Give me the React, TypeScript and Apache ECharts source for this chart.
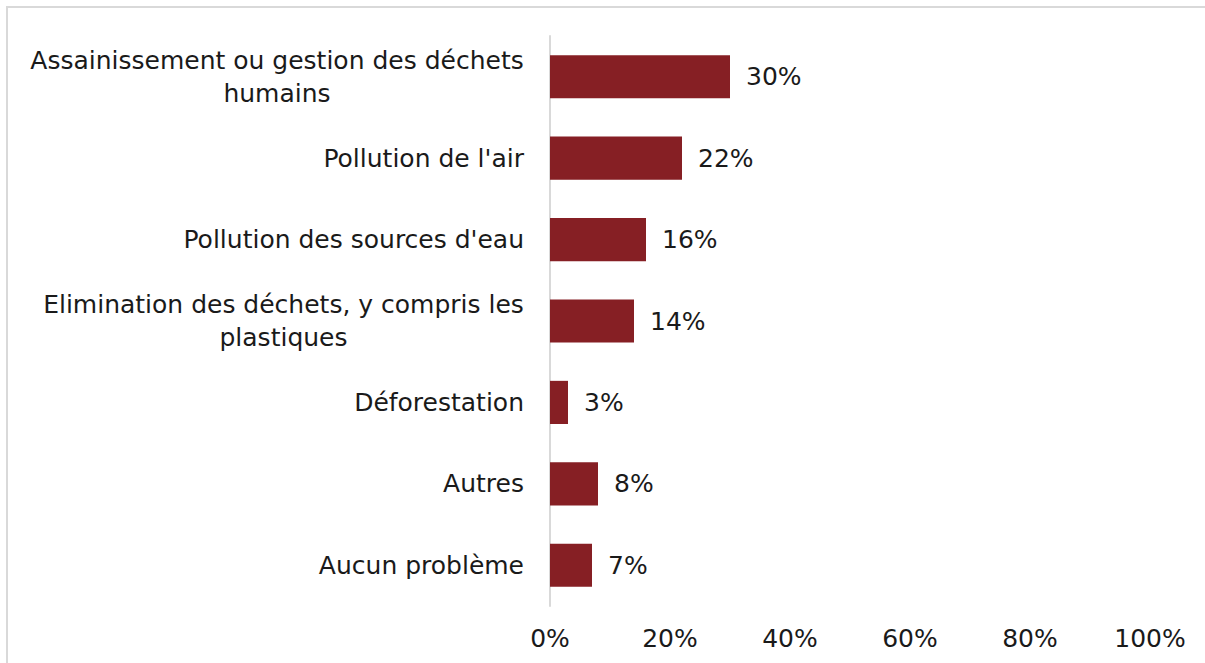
import React, { useEffect, useRef } from "react";
import * as echarts from "echarts";

const categories = [
  "Assainissement ou gestion des déchets\nhumains",
  "Pollution de l'air",
  "Pollution des sources d'eau",
  "Elimination des déchets, y compris les\nplastiques",
  "Déforestation",
  "Autres",
  "Aucun problème",
];
const values = [30, 22, 16, 14, 3, 8, 7];
const xTicks = [0, 20, 40, 60, 80, 100];

const FONT = "DejaVu Sans";
const FS = 25;

function measure(text: string): number {
  const c = document.createElement("canvas");
  const ctx = c.getContext("2d");
  if (!ctx) return text.length * FS * 0.55;
  ctx.font = `${FS}px "${FONT}"`;
  return ctx.measureText(text).width;
}

export default function App() {
  const ref = useRef<HTMLDivElement>(null);
  useEffect(() => {
    if (!ref.current) return;
    const chart = echarts.init(ref.current, undefined, { renderer: "svg" });
    const rich: Record<string, any> = {};
    categories.forEach((c, i) => {
      const lines = c.split("\n");
      if (lines.length > 1) {
        const w = Math.ceil(Math.max(...lines.map(measure)));
        rich["m" + i] = {
          width: w,
          align: "center",
          fontFamily: FONT,
          fontSize: FS,
          lineHeight: 33,
          color: "#1a1a1a",
        };
      }
    });
    chart.setOption({
      animation: false,
      backgroundColor: "#ffffff",
      graphic: [
        {
          type: "rect",
          shape: { x: 7, y: 7, width: 1220, height: 700 },
          style: { fill: "none", stroke: "#d9d9d9", lineWidth: 2 },
          silent: true,
        },
      ],
      grid: { left: 550, right: 55, top: 36, bottom: 57, containLabel: false },
      xAxis: {
        type: "value",
        min: xTicks[0],
        max: xTicks[xTicks.length - 1],
        interval: 20,
        splitLine: { show: false },
        axisLine: { show: false },
        axisTick: { show: false },
        axisLabel: {
          formatter: (v: number) => v + "%",
          color: "#1a1a1a",
          fontFamily: FONT,
          fontSize: FS,
          margin: 20,
        },
      },
      yAxis: {
        type: "category",
        data: categories,
        inverse: true,
        axisLine: { show: true, lineStyle: { color: "#d9d9d9", width: 2 } },
        axisTick: { show: false },
        axisLabel: {
          color: "#1a1a1a",
          fontFamily: FONT,
          fontSize: FS,
          lineHeight: 33,
          margin: 26,
          align: "right",
          rich,
          formatter: (value: string, idx: number) => {
            const i = categories.indexOf(value);
            const lines = value.split("\n");
            if (lines.length > 1 && rich["m" + i]) {
              return lines.map((l) => `{m${i}|${l}}`).join("\n");
            }
            return value;
          },
        },
      },
      series: [
        {
          type: "bar",
          data: values,
          barWidth: "53%",
          itemStyle: { color: "#861F24" },
          label: {
            show: true,
            position: "right",
            distance: 16,
            formatter: (p: any) => p.value + "%",
            color: "#1a1a1a",
            fontFamily: FONT,
            fontSize: FS,
          },
        },
      ],
    });
    return () => chart.dispose();
  }, []);
  return (
    <div
      ref={ref}
      style={{ position: "fixed", left: 0, top: 0, width: 1205, height: 663 }}
    />
  );
}
